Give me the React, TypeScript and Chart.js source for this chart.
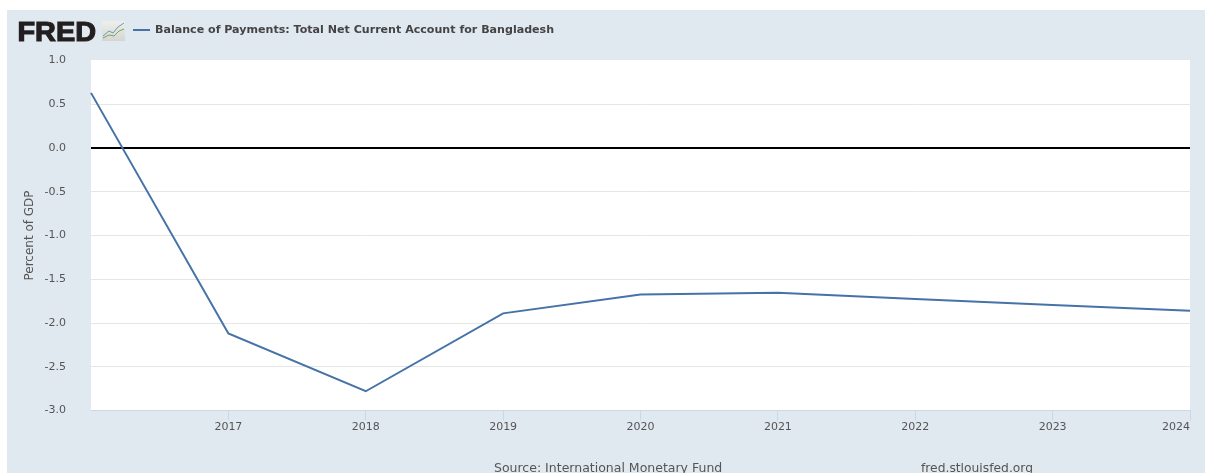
import React, { useEffect, useRef } from "react";
import { Chart, registerables } from "chart.js";

Chart.register(...registerables);

const years = [2016, 2017, 2018, 2019, 2020, 2021, 2022, 2023, 2024];
const currentAccount = [0.63, -2.12, -2.78, -1.89, -1.675, -1.655, -1.725, -1.795, -1.86];
const seriesName = "Balance of Payments: Total Net Current Account for Bangladesh";
const yAxisTitle = "Percent of GDP";
const sourceText = "Source: International Monetary Fund";
const siteText = "fred.stlouisfed.org";
const FONT = '"DejaVu Sans", sans-serif';
const PANEL = "#e1e9f0";

const panelPlugin = {
  id: "panel",
  beforeDraw(chart: any) {
    const { ctx, chartArea: a } = chart;
    ctx.save();
    ctx.fillStyle = PANEL;
    ctx.fillRect(7, 10, 1198, 463);
    ctx.fillStyle = "#ffffff";
    ctx.fillRect(Math.floor(a.left), 60, Math.floor(a.right) - Math.floor(a.left), 350);
    // FRED wordmark
    ctx.save();
    ctx.translate(17.5, 41);
    ctx.scale(1.03, 1);
    ctx.fillStyle = "#231f20";
    ctx.strokeStyle = "#231f20";
    ctx.lineWidth = 1.2;
    ctx.font = 'bold 28px "Liberation Sans", sans-serif';
    ctx.textBaseline = "alphabetic";
    ctx.fillText("FRED", 0, 0);
    ctx.strokeText("FRED", 0, 0);
    ctx.restore();
    // Icon
    const g = ctx.createLinearGradient(0, 21, 0, 41);
    g.addColorStop(0, "#eef0ec");
    g.addColorStop(1, "#d3d6d2");
    ctx.fillStyle = g;
    ctx.fillRect(102, 21, 23, 20);
    ctx.lineWidth = 1;
    ctx.strokeStyle = "#6f94bd";
    ctx.beginPath();
    ctx.moveTo(103, 36); ctx.lineTo(109, 31); ctx.lineTo(113, 33); ctx.lineTo(118, 27); ctx.lineTo(124, 23);
    ctx.stroke();
    ctx.strokeStyle = "#7fa55a";
    ctx.beginPath();
    ctx.moveTo(103, 38); ctx.lineTo(109, 35); ctx.lineTo(114, 36); ctx.lineTo(119, 31); ctx.lineTo(124, 29);
    ctx.stroke();
    // Legend
    ctx.strokeStyle = "#4572a7";
    ctx.lineWidth = 2;
    ctx.beginPath();
    ctx.moveTo(133, 30); ctx.lineTo(150, 30);
    ctx.stroke();
    ctx.fillStyle = "#444444";
    ctx.font = `bold 11.08px ${FONT}`;
    ctx.textBaseline = "middle";
    ctx.fillText(seriesName, 155, 30);
    // Footer
    ctx.fillStyle = "#555555";
    ctx.font = `12.5px ${FONT}`;
    ctx.textBaseline = "alphabetic";
    ctx.fillText(sourceText, 494, 472);
    ctx.font = `12.3px ${FONT}`;
    ctx.fillText(siteText, 921, 472);
    ctx.restore();
  },
};

export default function App() {
  const ref = useRef<HTMLCanvasElement>(null);
  useEffect(() => {
    const chart = new Chart(ref.current!, {
      type: "line",
      data: {
        datasets: [
          {
            label: seriesName,
            data: years.map((x, i) => ({ x, y: currentAccount[i] })),
            borderColor: "#4572a7",
            borderWidth: 2,
            pointRadius: 0,
            tension: 0,
            clip: false,
          },
        ],
      },
      options: {
        animation: false,
        responsive: false,
        devicePixelRatio: 1,
        layout: { padding: { left: 0, right: 15, top: 60.5, bottom: 0 } },
        plugins: { legend: { display: false }, title: { display: false }, tooltip: { enabled: false } },
        scales: {
          x: {
            type: "linear",
            min: 2016,
            max: 2024,
            afterFit: (s: any) => { s.height = 62.5; },
            afterBuildTicks: (s: any) => { s.ticks = years.map((value) => ({ value })); },
            grid: {
              drawOnChartArea: false,
              drawTicks: true,
              tickLength: 10,
              color: (c: any) => (c.tick && c.tick.value === years[0] ? "rgba(0,0,0,0)" : "#ccd6eb"),
              lineWidth: 1,
            },
            border: { color: "#ccd6eb", width: 1 },
            ticks: {
              autoSkip: false,
              maxRotation: 0,
              align: "inner",
              padding: 0,
              color: "#555555",
              font: { family: FONT, size: 11 },
              callback: (v: any) => (v === years[0] ? "" : String(v)),
            },
          },
          y: {
            type: "linear",
            min: -3,
            max: 1,
            afterFit: (s: any) => { s.width = 91; },
            title: {
              display: true,
              text: yAxisTitle,
              color: "#555555",
              font: { family: FONT, size: 12 },
              padding: { top: 23, bottom: 0 },
            },
            grid: {
              drawTicks: false,
              color: (c: any) =>
                c.tick.value === 0 ? "#000000" : c.tick.value === -3 || c.tick.value === 1 ? "rgba(0,0,0,0)" : "#e6e6e6",
              lineWidth: (c: any) => (c.tick.value === 0 ? 2 : 1),
            },
            border: { display: false },
            ticks: {
              stepSize: 0.5,
              padding: 25,
              color: "#555555",
              font: { family: FONT, size: 11 },
              callback: (v: any) => Number(v).toFixed(1),
            },
          },
        },
      },
      plugins: [panelPlugin],
    } as any);
    return () => chart.destroy();
  }, []);
  return (
    <canvas
      ref={ref}
      width={1205}
      height={473}
      style={{ position: "fixed", left: 0, top: 0, width: 1205, height: 473, display: "block" }}
    />
  );
}
